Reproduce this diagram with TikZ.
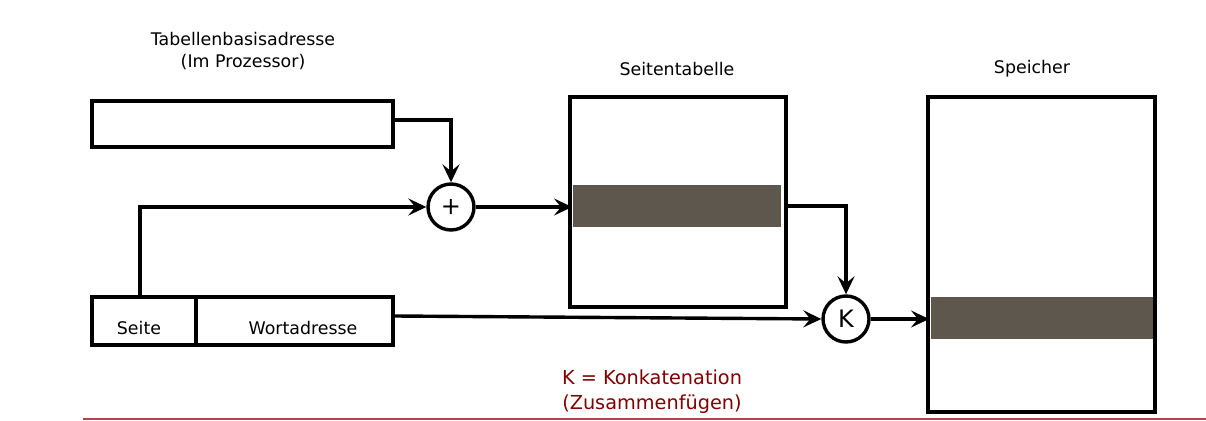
\documentclass[tikz,border=0pt]{standalone}
\usepackage{fontspec}
\setmainfont{DejaVu Sans}
\usetikzlibrary{arrows.meta}
\definecolor{band}{HTML}{5E574E}
\definecolor{kred}{HTML}{800000}
\definecolor{rule}{HTML}{B04848}
\begin{document}
\begin{tikzpicture}[x=1pt,y=-1pt,
  box/.style={draw,line width=4pt},
  conn/.style={line width=3.4pt},
  arr/.style={conn,-{Stealth[length=18pt,width=17pt,inset=7pt]}},
  op/.style={circle,draw,line width=3.4pt,minimum size=46pt,inner sep=0pt,font=\fontsize{24}{26}\selectfont},
  lab/.style={font=\fontsize{17.4}{22}\selectfont,align=center},
  boxtxt/.style={font=\fontsize{17.4}{20}\selectfont}]
\useasboundingbox (0,0) rectangle (1206,420);
% labels
\node[lab] (tbl) at (243,51) {Tabellenbasisadresse\\(Im Prozessor)};
\node[lab] (stl) at (677,69) {Seitentabelle};
\node[lab] (spl) at (1032,69) {Speicher};
% base register
\node[box,minimum width=301pt,minimum height=46pt,inner sep=0pt] (base) at (242.5,123.5) {};
% address register
\node[box,minimum width=104pt,minimum height=48pt,inner sep=0pt] (seite) at (144,321) {};
\node[box,minimum width=197pt,minimum height=48pt,inner sep=0pt] (wort) at (294.5,321) {};
\node[boxtxt] (seitet) at (139,328) {Seite};
\node[boxtxt] (wortt) at (303,328) {Wortadresse};
% page table
\node[box,minimum width=216pt,minimum height=210pt,inner sep=0pt] (pt) at (678,202) {};
\fill[band] (573,185) rectangle (781,227);
\coordinate (ptin) at (572,207);
\coordinate (ptout) at (788,206);
% memory
\node[box,minimum width=227pt,minimum height=315pt,inner sep=0pt] (mem) at (1041.5,254.5) {};
\fill[band] (931,297) rectangle (1153,339);
\coordinate (memin) at (929,319);
% operators
\node[op] (plus) at (451,207) {+};
\node[op] (k) at (846,319) {K};
% connectors
\coordinate (seiteup) at (140,297);
\draw[arr] (base.east |- 0,120) -| (plus.north);
\draw[arr] (seiteup) |- (plus.west);
\draw[arr] (plus.east) -- (ptin);
\draw[arr] (ptout) -| (k.north);
\draw[arr] (wort.east |- 0,316) -- (k.west);
\draw[arr] (k.east) -- (memin);
% legend
\node[font=\fontsize{19.3}{25}\selectfont,text=kred,align=center] (legend) at (652,392) {K = Konkatenation\\(Zusammenfügen)};
\coordinate (r1) at (83,419);
\coordinate (r2) at (1206,419);
\draw[rule,line width=1.5pt] (r1) -- (r2);
\end{tikzpicture}
\end{document}
